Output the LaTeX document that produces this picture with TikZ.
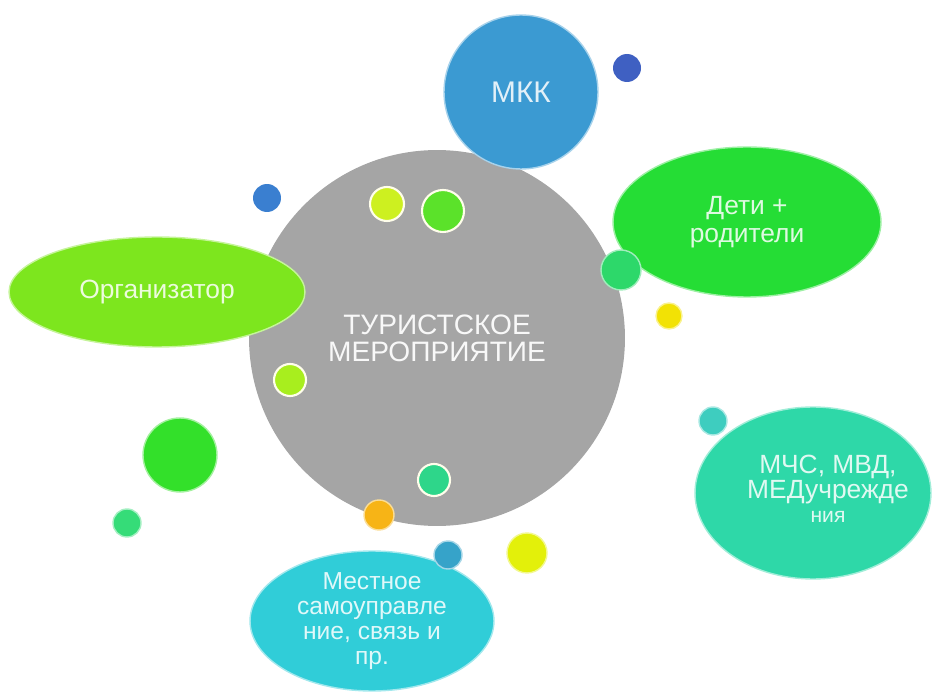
\documentclass[tikz,border=0pt]{standalone}
\usepackage{fontspec}
\setmainfont{Liberation Sans}
\usetikzlibrary{shapes.geometric}

\definecolor{greyC}{HTML}{A5A5A5}
\definecolor{mkkC}{HTML}{3B9AD2}
\definecolor{orgC}{HTML}{7DE61E}
\definecolor{kidsC}{HTML}{25DD35}
\definecolor{mchsC}{HTML}{2ED8A8}
\definecolor{localC}{HTML}{30CDD8}
\definecolor{navyD}{HTML}{3F60C2}
\definecolor{blueD}{HTML}{3A7FD0}
\definecolor{limeD}{HTML}{CDF020}
\definecolor{grassD}{HTML}{5BE22A}
\definecolor{jadeD}{HTML}{2DD86A}
\definecolor{sunD}{HTML}{F2E205}
\definecolor{pearD}{HTML}{A8EE1E}
\definecolor{leafD}{HTML}{33E02A}
\definecolor{mintD}{HTML}{35DC78}
\definecolor{seaD}{HTML}{2ED68A}
\definecolor{amberD}{HTML}{F7B416}
\definecolor{steelD}{HTML}{36A3C9}
\definecolor{lemonD}{HTML}{E3F00A}
\definecolor{tealD}{HTML}{3ECDBF}

\begin{document}
\begin{tikzpicture}[x=0.02cm,y=-0.02cm,
    ball/.style 2 args={circle,inner sep=0pt,minimum size=#2*0.04cm,fill=#1,draw=#1!45!white,line width=0.8pt},
    rim/.style={draw=white!92!yellow,line width=1.2pt},
    blob/.style={ellipse,inner sep=0pt,fill=#1,draw=#1!45!white,line width=0.8pt,align=center,
      text=#1!15!white,font=\fontsize{14}{14.2}\selectfont},
    tag/.style={inner sep=0pt,align=center,text=#1!15!white}]
  \useasboundingbox (0,0) rectangle (933,695);

  % centre
  \node[circle,inner sep=0pt,minimum size=7.52cm,fill=greyC,align=center,
    text=white!92!greyC,font=\fontsize{16}{15.3}\selectfont] (tour) at (437,338)
    {ТУРИСТСКОЕ\\МЕРОПРИЯТИЕ};

  % big bubbles
  \node[blob=mkkC,circle,minimum size=3.08cm,font=\fontsize{17}{17}\selectfont] (mkk) at (521,92) {МКК};
  \node[blob=orgC,minimum width=5.92cm,minimum height=2.2cm,font=\fontsize{15}{15}\selectfont] (org) at (157,292) {Организатор};
  \node[blob=kidsC,minimum width=5.36cm,minimum height=3cm,font=\fontsize{15}{16}\selectfont] (kids) at (747,222) {Дети +\\родители};
  \node[blob=mchsC,minimum width=4.72cm,minimum height=3.44cm] (mchs) at (813,493) {};
  \node[tag=mchsC,font=\fontsize{15}{13.8}\selectfont] (mchsT) at (828,489)
    {МЧС, МВД,\\МЕДучрежде\\{\fontsize{12}{13}\selectfont ния}};
  \node[blob=localC,minimum width=4.88cm,minimum height=2.8cm] (local) at (372,621)
    {Местное\\самоуправле\\ние, связь и\\пр.};

  % small dots
  \node[ball={navyD}{14},draw=none] (1) at (627,68) {};
  \node[ball={blueD}{14},draw=none] (2) at (267,198) {};
  \node[ball={limeD}{17},rim] (3) at (387,204) {};
  \node[ball={grassD}{21},rim] (4) at (443,211) {};
  \node[ball={jadeD}{20}] (5) at (621,270) {};
  \node[ball={sunD}{13}] (6) at (669,316) {};
  \node[ball={pearD}{16},rim] (7) at (290,380) {};
  \node[ball={leafD}{37}] (8) at (180,455) {};
  \node[ball={mintD}{14}] (9) at (127,523) {};
  \node[ball={seaD}{16},rim] (10) at (434,480) {};
  \node[ball={amberD}{15}] (11) at (379,515) {};
  \node[ball={steelD}{14}] (12) at (448,555) {};
  \node[ball={lemonD}{20}] (13) at (527,553) {};
  \node[ball={tealD}{14}] (14) at (713,421) {};
\end{tikzpicture}
\end{document}
